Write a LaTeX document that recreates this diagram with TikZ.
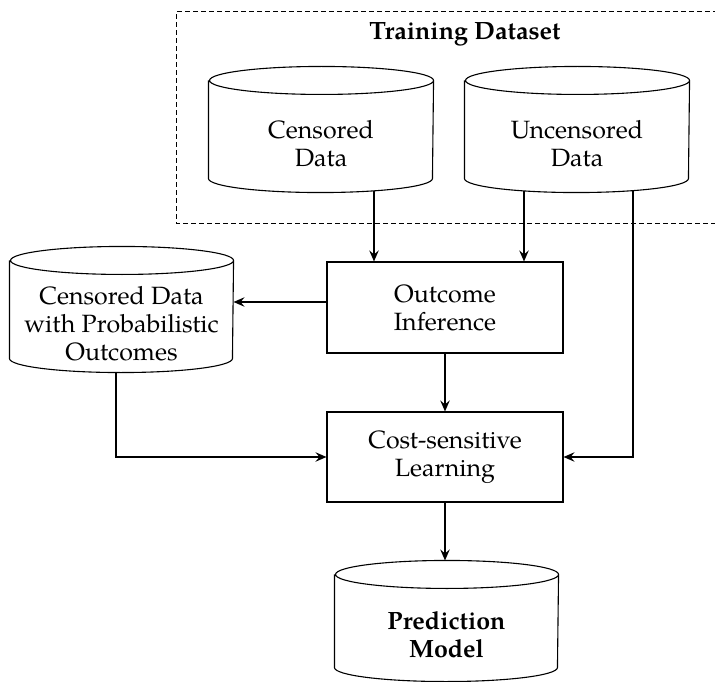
\documentclass[tikz,border=0pt]{standalone}
\usepackage{fontspec}
\setmainfont{texgyrepagella}[Extension=.otf,UprightFont=*-regular,BoldFont=*-bold,ItalicFont=*-italic,BoldItalicFont=*-bolditalic]
\usetikzlibrary{arrows.meta,calc}
\newcommand\drawcyl[2]{%
  \draw ($(#1.north west)+(0,14pt)$) -- ($(#1.south west)+(0,14pt)$)
    arc[start angle=180,end angle=360,x radius=#2pt,y radius=14pt]
    -- ($(#1.north east)+(0,14pt)$)
    arc[start angle=0,end angle=360,x radius=#2pt,y radius=14pt];}
\begin{document}
\begin{tikzpicture}[x=1pt,y=1pt,
  line width=1.1pt,
  txt/.style={font=\fontsize{25}{28}\selectfont, align=center, inner sep=0pt},
  box/.style={txt, draw, minimum width=236pt, minimum height=91pt},
  cylbody/.style={txt, minimum width=224pt, minimum height=97pt},
  arr/.style={-{Stealth[length=11pt,width=9.5pt,inset=4pt]}},
  group/.style={dashed, dash pattern=on 5pt off 3pt, line width=0.8pt}]
\useasboundingbox (0,0) rectangle (715,-682);
\clip (0,0) rectangle (715,-682);
% group
\node[inner sep=0pt, minimum width=540pt, minimum height=211pt] (tds) at (447,-117.5) {};
\draw[group] (tds.north east) -| (tds.south west) -- (tds.south east);
\node[txt, font=\bfseries\fontsize{25}{28}\selectfont, anchor=base] (title) at (465,-40) {Training Dataset};
% cylinders
\node[cylbody] (cens) at (321,-143.5) {Censored\\Data};
\node[cylbody] (unc) at (577,-143.5) {Uncensored\\Data};
\node[cylbody, minimum width=223pt] (prob) at (121.5,-323.5) {Censored Data\\with Probabilistic\\Outcomes};
\node[cylbody, minimum width=223pt, minimum height=92pt] (pred) at (446.5,-635) {\textbf{Prediction}\\\textbf{Model}};
\drawcyl{cens}{112}
\drawcyl{unc}{112}
\drawcyl{prob}{111.5}
\drawcyl{pred}{111.5}
% boxes
\node[box] (outc) at (445,-307.5) {Outcome\\Inference};
\node[box, minimum height=90pt] (cost) at (445,-457) {Cost-sensitive\\Learning};
% connectors
\coordinate (c1) at ($(cens.south)+(53pt,1.7pt)$);
\coordinate (u1) at ($(unc.south)+(-53pt,1.7pt)$);
\coordinate (u2) at ($(unc.south)+(56pt,1.9pt)$);
\coordinate (o1) at ($(outc.west)+(0,5.5pt)$);
\coordinate (p1) at ($(prob.south)+(-5.5pt,0pt)$);
\coordinate (pt) at ($(pred.north)+(0,28pt)$);
\draw[arr] (c1) -- (c1 |- outc.north);
\draw[arr] (u1) -- (u1 |- outc.north);
\draw[arr] (u2) |- (cost.east);
\draw[arr] (o1) -- (o1 -| prob.east);
\draw[arr] (p1) |- (cost.west);
\draw[arr] (outc.south) -- (cost.north);
\draw[arr] (cost.south) -- (cost.south |- pt);
\end{tikzpicture}
\end{document}
